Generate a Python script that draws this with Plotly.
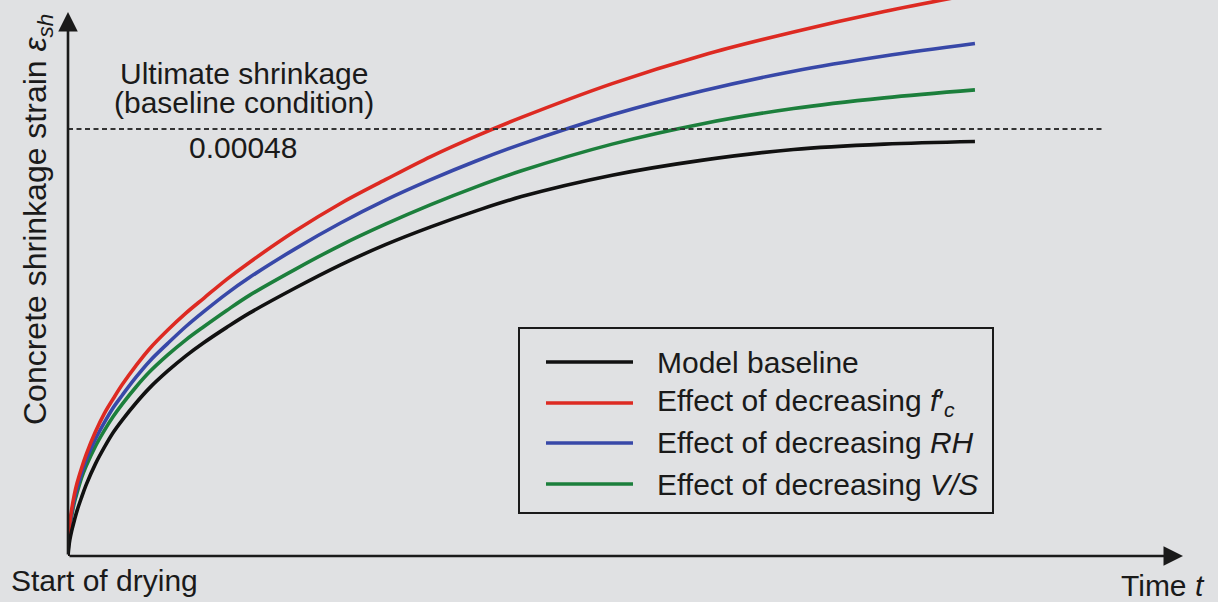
import plotly.graph_objects as go

# ---- data (time in days, strain in microstrain) ----
time_days = [0, 1, 2, 4, 7, 10, 15, 20, 30, 40, 50, 60, 75, 90, 110, 130, 150, 175, 200,
             250, 300, 350, 400, 450, 500, 600, 700, 800, 900, 1000]
baseline = [0, 11, 18, 28, 40, 51, 66, 80, 103, 122, 139, 153, 172, 189, 208, 225, 240, 257, 273,
            301, 327, 350, 370, 388, 404, 428, 445, 457, 463, 466]
dec_fc = [0, 26, 37, 52, 69, 82, 99, 114, 139, 160, 177, 193, 214, 233, 254, 273, 290, 311, 330,
          365, 396, 423, 449, 472, 493, 531, 563, 589, 612, 632]
dec_rh = [0, 24, 34, 48, 64, 76, 93, 108, 131, 150, 167, 181, 201, 219, 239, 258, 275, 295, 313,
          345, 374, 400, 423, 444, 463, 496, 523, 545, 562, 576]
dec_vs = [0, 22, 32, 45, 60, 71, 88, 101, 123, 141, 157, 171, 190, 207, 226, 243, 258, 276, 293,
          322, 349, 373, 395, 415, 433, 463, 486, 503, 515, 524]

series_names = [
    "Model baseline",
    "Effect of decreasing <i>f</i>′<sub><i>c</i></sub>",
    "Effect of decreasing <i>RH</i>",
    "Effect of decreasing <i>V/S</i>",
]
series_values = [baseline, dec_fc, dec_rh, dec_vs]
series_colors = ["#111111", "#dd2a22", "#3848a8", "#1c7f3c"]

ultimate_value = 480  # microstrain = 0.00048
ultimate_label = "0.00048"

W, H = 1218, 602
L, B = 68, 46
X_RANGE = [0, 1268]
Y_RANGE = [0, 625]
FONT = "Liberation Sans, Arial, Helvetica, sans-serif"
FS = 30
BG = "#e0e1e3"


def px(x):
    return (x - L) / (W - L)


def py(y):
    return (H - B - y) / (H - B)


fig = go.Figure()

# draw in reverse so baseline sits on top near the origin
for name, vals, col in list(zip(series_names, series_values, series_colors))[::-1]:
    fig.add_trace(go.Scatter(
        x=time_days, y=vals, mode="lines", name=name,
        line=dict(color=col, width=3.6, shape="spline", smoothing=1.0),
        showlegend=False, hoverinfo="skip",
    ))

# ultimate shrinkage dashed line
fig.add_trace(go.Scatter(
    x=[0, 1143], y=[ultimate_value, ultimate_value], mode="lines",
    line=dict(color="#333333", width=2, dash="5px,3.5px"),
    showlegend=False, hoverinfo="skip",
))

shapes = []
annotations = []

# axes with arrows
annotations.append(dict(
    x=px(1183), y=py(556), xref="paper", yref="paper",
    ax=L - 1183, ay=0, axref="pixel", ayref="pixel",
    showarrow=True, arrowhead=2, arrowsize=1.5, arrowwidth=2.6,
    arrowcolor="#1a1a1a", text="",
))
annotations.append(dict(
    x=px(68), y=py(12), xref="paper", yref="paper",
    ax=0, ay=556 - 12, axref="pixel", ayref="pixel",
    showarrow=True, arrowhead=2, arrowsize=1.5, arrowwidth=2.6,
    arrowcolor="#1a1a1a", text="",
))

txt = dict(showarrow=False, xref="paper", yref="paper",
           font=dict(family=FONT, size=FS, color="#1a1a1a"))

annotations.append(dict(text="Ultimate shrinkage", x=px(244), y=py(74), xanchor="center", yanchor="middle", **txt))
annotations.append(dict(text="(baseline condition)", x=px(244), y=py(103), xanchor="center", yanchor="middle", **txt))
annotations.append(dict(text=ultimate_label, x=px(243), y=py(147), xanchor="center", yanchor="middle", **txt))
annotations.append(dict(text="Start of drying", x=px(104), y=py(580), xanchor="center", yanchor="middle", **txt))
annotations.append(dict(text="Time <i>t</i>", x=px(1163), y=py(585), xanchor="center", yanchor="middle", **txt))
annotations.append(dict(text="Concrete shrinkage strain <i>ε</i><sub><i>sh</i></sub>", textangle=-90,
                        x=px(37), y=py(220), xanchor="center", yanchor="middle",
                        showarrow=False, xref="paper", yref="paper",
                        font=dict(family=FONT, size=32, color="#1a1a1a")))

# manual legend
shapes.append(dict(type="rect", xref="paper", yref="paper",
                   x0=px(519), x1=px(993), y0=py(328), y1=py(513),
                   line=dict(color="#1a1a1a", width=2), fillcolor="rgba(0,0,0,0)"))
row_y = [362, 403, 443, 484]
for name, col, ry in zip(series_names, series_colors, row_y):
    shapes.append(dict(type="line", xref="paper", yref="paper",
                       x0=px(546), x1=px(633), y0=py(ry), y1=py(ry),
                       line=dict(color=col, width=3.6)))
    annotations.append(dict(text=name, x=px(655), y=py(ry), xanchor="left", yanchor="middle", **txt))

fig.update_layout(
    width=W, height=H,
    margin=dict(l=L, r=0, t=0, b=B, pad=0),
    paper_bgcolor=BG, plot_bgcolor=BG,
    xaxis=dict(range=X_RANGE, visible=False, fixedrange=True),
    yaxis=dict(range=Y_RANGE, visible=False, fixedrange=True),
    shapes=shapes, annotations=annotations,
    font=dict(family=FONT, size=FS, color="#1a1a1a"),
    showlegend=False,
)

fig.write_html(
    "out.html",
    config={"displayModeBar": False},
    post_script="document.body.style.margin='0';document.body.style.background='" + BG + "';"
                "document.body.style.overflow='hidden';",
)
